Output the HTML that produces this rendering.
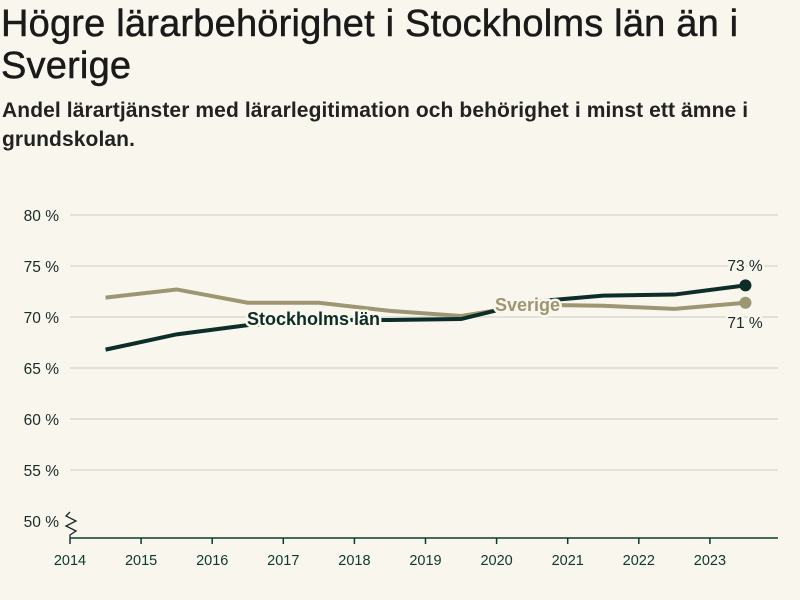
<!DOCTYPE html>
<html><head><meta charset="utf-8"><style>
body{margin:0;background:#f8f6ed;font-family:"Liberation Sans",sans-serif;color:#1a1a1a}
h1{position:absolute;left:1px;top:3px;margin:0;font-size:38px;line-height:42px;font-weight:normal;width:790px;letter-spacing:0.2px;-webkit-text-stroke:0.5px #1a1a1a}
h2{position:absolute;left:2px;top:96px;margin:0;font-size:21px;line-height:29px;font-weight:bold;width:790px;letter-spacing:0.1px;color:#222}
svg{position:absolute;left:0;top:0}
</style></head><body>
<h1>Högre lärarbehörighet i Stockholms län än i Sverige</h1>
<h2>Andel lärartjänster med lärarlegitimation och behörighet i minst ett ämne i grundskolan.</h2>
<svg id="c" width="800" height="600"></svg>
<script>
const years=[2014.5,2015.5,2016.5,2017.5,2018.5,2019.5,2020.5,2021.5,2022.5,2023.5];
const sthlm=[66.8,68.3,69.2,69.7,69.7,69.8,71.5,72.1,72.2,73.1];
const sverige=[71.9,72.7,71.4,71.4,70.6,70.1,71.2,71.1,70.8,71.4];
const yTicks=[50,55,60,65,70,75,80];
const xTicks=[2014,2015,2016,2017,2018,2019,2020,2021,2022,2023];
const NS="http://www.w3.org/2000/svg",svg=document.getElementById('c');
const x=v=>70+(v-2014)*71.1, y=v=>521-(v-50)*10.2;
function mk(t,a,p){const e=document.createElementNS(NS,t);for(const k in a)e.setAttribute(k,a[k]);(p||svg).appendChild(e);return e;}
yTicks.forEach(t=>{
 if(t>50){const l=mk('line',{x1:70,x2:778,y1:y(t),y2:y(t),stroke:'#dcdad2','stroke-width':1.5});
 
 }
 const tx=mk('text',{x:59,y:y(t)+6,'text-anchor':'end','font-size':15.5,fill:'#1a2a28'});tx.textContent=t+' %';
 
 
});
const ax=mk('line',{x1:70,x2:778,y1:538,y2:538,stroke:'#0d3a2f','stroke-width':1.5});


const br=mk('path',{d:'M70 512 L66 516 L76 521 L66 526 L76 531 L70 535 L70 538',fill:'none',stroke:'#1a2a28','stroke-width':1.3});


xTicks.forEach(t=>{
 mk('line',{x1:x(t),x2:x(t),y1:538,y2:544,stroke:'#0d3a2f','stroke-width':1.5});
 const tx=mk('text',{x:x(t),y:565,'text-anchor':'middle','font-size':14.5,fill:'#0d3a2f'});tx.textContent=t;
 
 
});
function line(vals,col,name){
 const p=mk('polyline',{points:vals.map((v,i)=>x(years[i])+','+y(v)).join(' '),fill:'none',stroke:col,'stroke-width':4});
 
 
 const d=mk('circle',{cx:x(years[years.length-1]),cy:y(vals[vals.length-1]),r:6,fill:col});
 
 
}
line(sverige,'#9c9673','line-sverige');
line(sthlm,'#0d2e28','line-stockholm');
function lab(t,xx,yy,col,size,name,anchor,w){
 const e=mk('text',{x:xx,y:yy,'font-size':size,'font-weight':w||'normal',fill:col,stroke:'#f8f6ed','stroke-width':5,'paint-order':'stroke','stroke-linejoin':'round','text-anchor':anchor||'start'});
 e.textContent=t;
 
 
}
lab('Stockholms län',247,325,'#0d2e28',18,'label-stockholm','start','bold');
lab('Sverige',495,311,'#9c9673',18,'label-sverige','start','bold');
lab(Math.round(sthlm[9])+' %',745,271,'#1a2a28',15.5,'value-stockholm-2023','middle');
lab(Math.round(sverige[9])+' %',745,328,'#1a2a28',15.5,'value-sverige-2023','middle');
</script>
</body></html>
